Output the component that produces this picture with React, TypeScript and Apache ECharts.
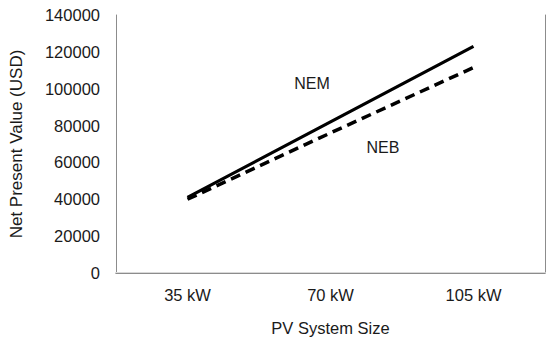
import React, { useEffect, useRef } from "react";
import * as echarts from "echarts";

const categories = ["35 kW", "70 kW", "105 kW"];
const nemValues = [41000, 82000, 123000];
const nebValues = [40000, 76000, 111500];
const yTicks = { min: 0, max: 140000, interval: 20000 };

const FONT = "'Liberation Sans', Arial, sans-serif";
const FS = 16.5;

export default function App() {
  const ref = useRef<HTMLDivElement>(null);
  useEffect(() => {
    if (!ref.current) return;
    const chart = echarts.init(ref.current, undefined, { renderer: "svg" });
    chart.setOption({
      animation: false,
      backgroundColor: "#ffffff",
      grid: { left: 116, right: 5, top: 15, bottom: 69, containLabel: false },
      xAxis: [
        {
          type: "category",
          data: categories,
          boundaryGap: true,
          axisLine: { show: true, lineStyle: { color: "#d9d9d9", width: 2 } },
          axisTick: { show: false },
          axisLabel: { color: "#1a1a1a", fontSize: FS, fontFamily: FONT, margin: 13 },
          name: "PV System Size",
          nameLocation: "middle",
          nameGap: 46,
          nameTextStyle: { color: "#1a1a1a", fontSize: FS, fontFamily: FONT },
          splitLine: { show: false },
        },
        {
          type: "category",
          data: categories,
          position: "top",
          axisLine: { show: true, lineStyle: { color: "#8c8c8c", width: 1 } },
          axisTick: { show: false },
          axisLabel: { show: false },
        },
      ],
      yAxis: [
        {
          type: "value",
          min: yTicks.min,
          max: yTicks.max,
          interval: yTicks.interval,
          axisLine: { show: true, lineStyle: { color: "#8c8c8c", width: 1 } },
          axisTick: { show: false },
          splitLine: { show: false },
          axisLabel: {
            color: "#1a1a1a",
            fontSize: FS,
            fontFamily: FONT,
            margin: 16,
            formatter: (v: number) => String(v),
          },
          name: "Net Present Value (USD)",
          nameLocation: "middle",
          nameGap: 91,
          nameTextStyle: { color: "#1a1a1a", fontSize: 17, fontFamily: FONT },
        },
        {
          type: "value",
          position: "right",
          min: yTicks.min,
          max: yTicks.max,
          interval: yTicks.interval,
          axisLine: { show: true, lineStyle: { color: "#8c8c8c", width: 1 } },
          axisTick: { show: false },
          splitLine: { show: false },
          axisLabel: { show: false },
        },
      ],
      series: [
        {
          name: "NEM",
          type: "line",
          data: nemValues,
          showSymbol: false,
          symbol: "none",
          lineStyle: { color: "#000000", width: 3.2, type: "solid" },
          z: 3,
        },
        {
          name: "NEB",
          type: "line",
          data: nebValues,
          showSymbol: false,
          symbol: "none",
          lineStyle: { color: "#000000", width: 3.5, type: [10, 6] },
          z: 3,
        },
      ],
      graphic: [
        {
          type: "text",
          x: 312,
          y: 83,
          style: {
            text: "NEM",
            fill: "#1a1a1a",
            font: `16px ${FONT}`,
            textAlign: "center",
            textVerticalAlign: "middle",
          },
        },
        {
          type: "text",
          x: 383,
          y: 147,
          style: {
            text: "NEB",
            fill: "#1a1a1a",
            font: `16px ${FONT}`,
            textAlign: "center",
            textVerticalAlign: "middle",
          },
        },
      ],
    });
    return () => chart.dispose();
  }, []);
  return <div ref={ref} style={{ width: 550, height: 342, position: "absolute", left: 0, top: 0 }} />;
}
